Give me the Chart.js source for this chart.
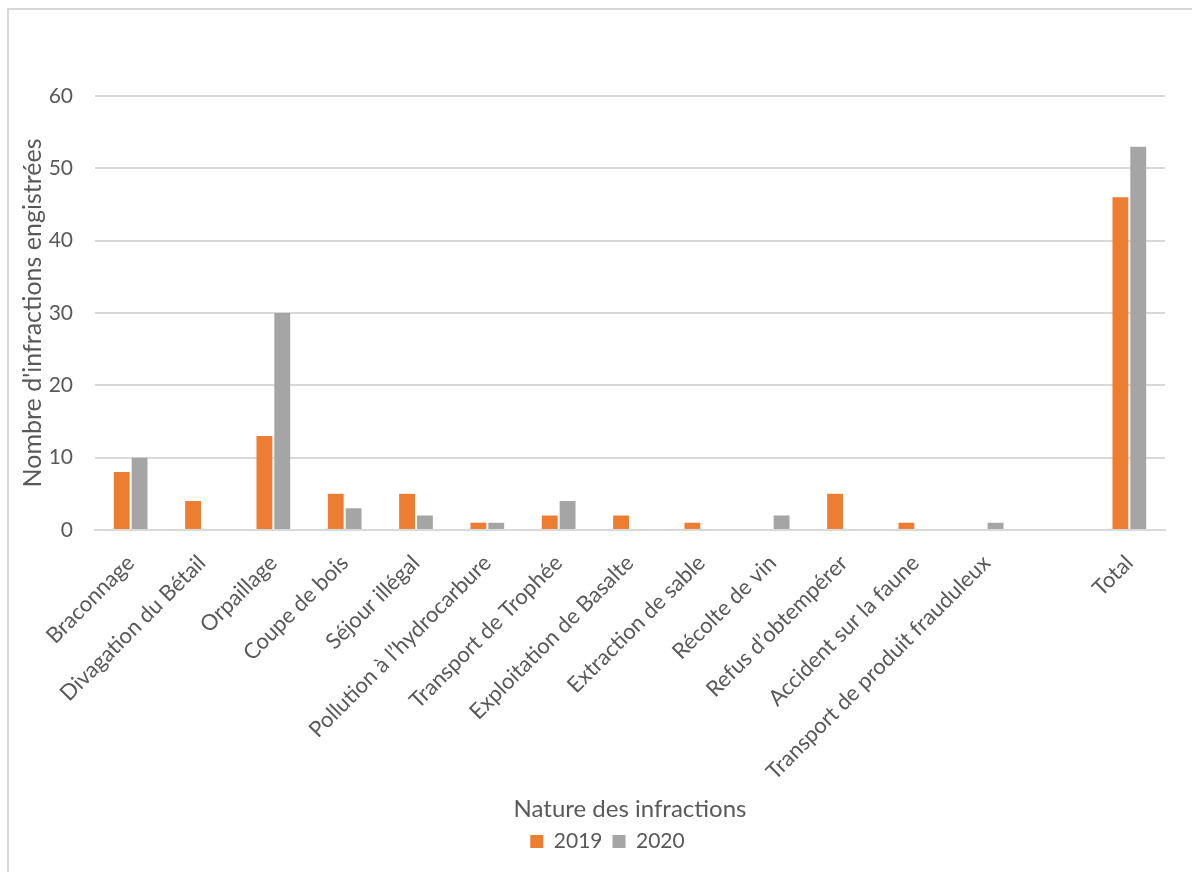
<!DOCTYPE html>
<html>
<head>
<meta charset="utf-8">
<script src="https://cdn.jsdelivr.net/npm/chart.js@4"></script>
<style>
  html, body { margin: 0; padding: 0; background: #fff; }
  #frame { position: absolute; left: 7px; top: 8px; width: 1200px; height: 880px; border: 2px solid #d9d9d9; box-sizing: border-box; }
  #wrap { position: absolute; left: 0; top: 0; width: 1192px; height: 872px; }
</style>
</head>
<body>
<div id="frame"></div>
<div id="wrap"><canvas id="graph"></canvas></div>
<script>
const categories = ['Braconnage', 'Divagation du Bétail', 'Orpaillage', 'Coupe de bois', 'Séjour illégal',
    'Pollution à l’hydrocarbure', 'Transport de Trophée', 'Exploitation de Basalte', 'Extraction de sable',
    'Récolte de vin', 'Refus d’obtempérer', 'Accident sur la faune', 'Transport de produit frauduleux', '', 'Total'];
const values2019 = [8, 4, 13, 5, 5, 1, 2, 2, 1, null, 5, 1, null, null, 46];
const values2020 = [10, null, 30, 3, 2, 1, 4, null, null, 2, null, null, 1, null, 53];
const yTicks = [0, 10, 20, 30, 40, 50, 60];

const textColor = '#595959';
const fontFamily = 'Lato, sans-serif';

const data = {
    labels: categories,
    datasets: [{
        label: '2019',
        data: values2019,
        backgroundColor: '#ED7D31',
        categoryPercentage: 0.5,
        barPercentage: 0.89
    }, {
        label: '2020',
        data: values2020,
        backgroundColor: '#A5A5A5',
        categoryPercentage: 0.5,
        barPercentage: 0.89
    }]
};

// nudge the legend a bit to the right, like in Excel
const legendShift = {
    id: 'legendShift',
    afterLayout: (chart) => {
        chart.legend.left += 16;
        chart.legend.right += 16;
    }
};

const config = {
    type: 'bar',
    data: data,
    plugins: [legendShift],
    options: {
        responsive: true,
        maintainAspectRatio: false,
        animation: false,
        layout: {
            padding: { top: 96, right: 27, bottom: 10, left: 18 }
        },
        plugins: {
            legend: {
                position: 'bottom',
                labels: {
                    boxWidth: 13,
                    boxHeight: 13,
                    color: textColor,
                    font: { family: fontFamily, size: 21 },
                    padding: 10
                }
            },
            tooltip: { enabled: false }
        },
        scales: {
            x: {
                grid: { display: false },
                border: { color: '#d9d9d9', width: 2 },
                afterFit: (axis) => {
                    // let the first rotated label run under the y axis like Excel does
                    axis.paddingLeft = 0;
                },
                ticks: {
                    color: textColor,
                    font: { family: fontFamily, size: 22, lineHeight: 1 },
                    minRotation: 45,
                    maxRotation: 45,
                    autoSkip: false,
                    padding: 13.5
                },
                title: {
                    display: true,
                    text: 'Nature des infractions',
                    color: textColor,
                    font: { family: fontFamily, size: 24, lineHeight: 1 },
                    padding: { top: 0, bottom: 0 }
                }
            },
            y: {
                min: 0,
                max: 60,
                afterBuildTicks: (axis) => {
                    axis.ticks = yTicks.map(v => ({ value: v }));
                },
                afterFit: (axis) => {
                    axis.width = 77;
                },
                grid: { color: '#d9d9d9', lineWidth: 2, drawTicks: false },
                border: { display: false },
                ticks: {
                    color: textColor,
                    font: { family: fontFamily, size: 21 },
                    padding: 22
                },
                title: {
                    display: true,
                    text: "Nombre d'infractions engistrées",
                    color: textColor,
                    font: { family: fontFamily, size: 25 },
                    padding: { top: 0, bottom: 2 }
                }
            }
        }
    }
};

const graph = document.querySelector('#graph');
new Chart(graph, config);
</script>
</body>
</html>
